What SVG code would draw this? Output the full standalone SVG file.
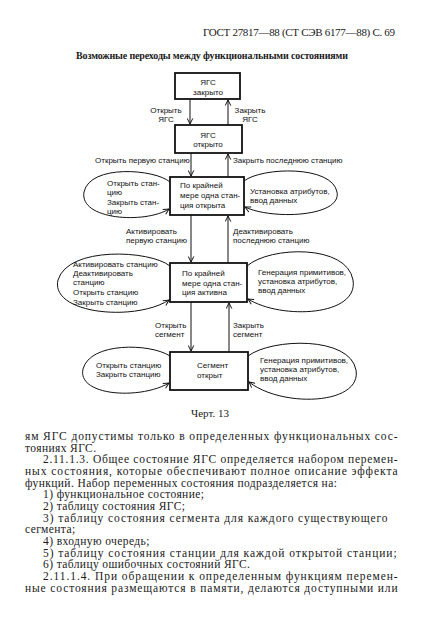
<svg xmlns="http://www.w3.org/2000/svg" width="427" height="632" viewBox="0 0 427 632">
<style>
.bx{fill:none;stroke:#111;stroke-width:1.8}
.ln{fill:none;stroke:#111;stroke-width:1}
.d{font-family:"Liberation Sans",Arial,sans-serif;font-size:8px;fill:#111}
.c{text-anchor:middle}
.s{font-family:"Liberation Serif","Times New Roman",serif;fill:#1a1a1a}
.b{font-size:11.5px;letter-spacing:0.4px}
</style>
<defs>
<marker id="arr" viewBox="0 0 10 10" refX="9" refY="5" markerWidth="7" markerHeight="7" orient="auto" markerUnits="userSpaceOnUse">
<path d="M1,1 L9,5 L1,9" fill="none" stroke="#111" stroke-width="1.4"/>
</marker>
</defs>
<rect width="427" height="632" fill="#fff"/>
<text class="s" x="203" y="36" font-size="11" textLength="192">ГОСТ 27817—88 (СТ СЭВ 6177—88) С. 69</text>
<text class="s" x="76" y="59" font-size="10" font-weight="bold" textLength="272">Возможные переходы между функциональными состояниями</text>

<g id="connectors">
<line class="ln" x1="190" y1="99" x2="190" y2="124" marker-end="url(#arr)"/>
<line class="ln" x1="228" y1="125" x2="228" y2="100" marker-end="url(#arr)"/>
<line class="ln" x1="191" y1="153" x2="191" y2="176" marker-end="url(#arr)"/>
<line class="ln" x1="228" y1="177" x2="228" y2="154" marker-end="url(#arr)"/>
<line class="ln" x1="191" y1="215" x2="191" y2="262" marker-end="url(#arr)"/>
<line class="ln" x1="228" y1="263" x2="228" y2="216" marker-end="url(#arr)"/>
<line class="ln" x1="191" y1="302" x2="191" y2="351" marker-end="url(#arr)"/>
<line class="ln" x1="229" y1="352" x2="229" y2="303" marker-end="url(#arr)"/>
<path class="ln" d="M170,182 C155,169 90,164 84,192 C79,220 145,224 169,209" marker-end="url(#arr)"/>
<path class="ln" d="M244,181 C262,167 332,165 337,192 C342,217 272,220 245,207" marker-end="url(#arr)"/>
<path class="ln" d="M170,266 C150,250 68,246 58,280 C50,314 135,322 169,300" marker-end="url(#arr)"/>
<path class="ln" d="M247,266 C270,246 347,244 353,280 C359,316 282,320 248,299" marker-end="url(#arr)"/>
<path class="ln" d="M170,356 C150,343 90,342 83,369 C77,396 140,400 169,383" marker-end="url(#arr)"/>
<path class="ln" d="M248,356 C272,338 350,336 356,370 C362,405 282,408 249,382" marker-end="url(#arr)"/>
<text class="d c" x="166" y="113">Открыть</text>
<text class="d c" x="166" y="122">ЯГС</text>
<text class="d c" x="250" y="113">Закрыть</text>
<text class="d c" x="250" y="122">ЯГС</text>
<text class="d" x="95" y="163">Открыть первую станцию</text>
<text class="d" x="233" y="163">Закрыть последнюю станцию</text>
<text class="d" x="126" y="234">Активировать</text>
<text class="d" x="126" y="243">первую станцию</text>
<text class="d" x="233" y="234">Деактивировать</text>
<text class="d" x="233" y="243">последнюю станцию</text>
<text class="d" x="155" y="328">Открыть</text>
<text class="d" x="155" y="337">сегмент</text>
<text class="d" x="233" y="328">Закрыть</text>
<text class="d" x="233" y="337">сегмент</text>
</g>

<g id="n1"><rect class="bx" x="175" y="73" width="65" height="26"/>
<text class="d c" x="208" y="85">ЯГС</text><text class="d c" x="208" y="95">закрыто</text></g>
<g id="n2"><rect class="bx" x="175" y="125" width="67" height="28"/>
<text class="d c" x="208" y="138">ЯГС</text><text class="d c" x="208" y="147">открыто</text></g>
<g id="n3"><rect class="bx" x="170" y="177" width="74" height="38"/>
<text class="d" x="180" y="188">По крайней</text><text class="d" x="180" y="198">мере одна стан-</text><text class="d" x="180" y="208">ция открыта</text></g>
<g id="n3l"><text class="d" x="107" y="186">Открыть стан-</text><text class="d" x="107" y="195">цию</text><text class="d" x="107" y="204.5">Закрыть стан-</text><text class="d" x="107" y="214">цию</text></g>
<g id="n3r"><text class="d" x="250" y="194">Установка атрибутов,</text><text class="d" x="250" y="203">ввод данных</text></g>
<g id="n4"><rect class="bx" x="170" y="263" width="77" height="39"/>
<text class="d" x="182" y="276">По крайней</text><text class="d" x="182" y="286">мере одна стан-</text><text class="d" x="182" y="295">ция активна</text></g>
<g id="n4l"><text class="d" x="73" y="267">Активировать станцию</text><text class="d" x="73" y="276">Деактивировать</text><text class="d" x="73" y="285">станцию</text><text class="d" x="73" y="295">Открыть станцию</text><text class="d" x="73" y="304.5">Закрыть станцию</text></g>
<g id="n4r"><text class="d" x="258" y="275">Генерация примитивов,</text><text class="d" x="258" y="284">установка атрибутов,</text><text class="d" x="258" y="293">ввод данных</text></g>
<g id="n5"><rect class="bx" x="170" y="352" width="78" height="38"/>
<text class="d" x="197" y="368">Сегмент</text><text class="d" x="197" y="378">открыт</text></g>
<g id="n5l"><text class="d" x="96" y="368">Открыть станцию</text><text class="d" x="96" y="377">Закрыть станцию</text></g>
<g id="n5r"><text class="d" x="260" y="363">Генерация примитивов,</text><text class="d" x="260" y="372">установка атрибутов,</text><text class="d" x="260" y="381">ввод данных</text></g>

<text class="s c" x="210" y="417" font-size="11">Черт. 13</text>
<g id="body" class="s b">
<text x="25" y="440" textLength="373">ям ЯГС допустимы только в определенных функциональных сос-</text>
<text x="25" y="451.7">тояниях ЯГС.</text>
<text x="43" y="463.3" textLength="355">2.11.1.3. Общее состояние ЯГС определяется набором перемен-</text>
<text x="25" y="475" textLength="373">ных состояния, которые обеспечивают полное описание эффекта</text>
<text x="25" y="486.6">функций. Набор переменных состояния подразделяется на:</text>
<text x="43" y="498.3">1) функциональное состояние;</text>
<text x="43" y="510">2) таблицу состояния ЯГС;</text>
<text x="43" y="521.6" textLength="345">3) таблицу состояния сегмента для каждого существующего</text>
<text x="25" y="533.3">сегмента;</text>
<text x="43" y="545">4) входную очередь;</text>
<text x="43" y="556.6" textLength="354">5) таблицу состояния станции для каждой открытой станции;</text>
<text x="43" y="568.3">6) таблицу ошибочных состояний ЯГС.</text>
<text x="43" y="580" textLength="355">2.11.1.4. При обращении к определенным функциям перемен-</text>
<text x="25" y="591.6" textLength="373">ные состояния размещаются в памяти, делаются доступными или</text>
</g>
</svg>
